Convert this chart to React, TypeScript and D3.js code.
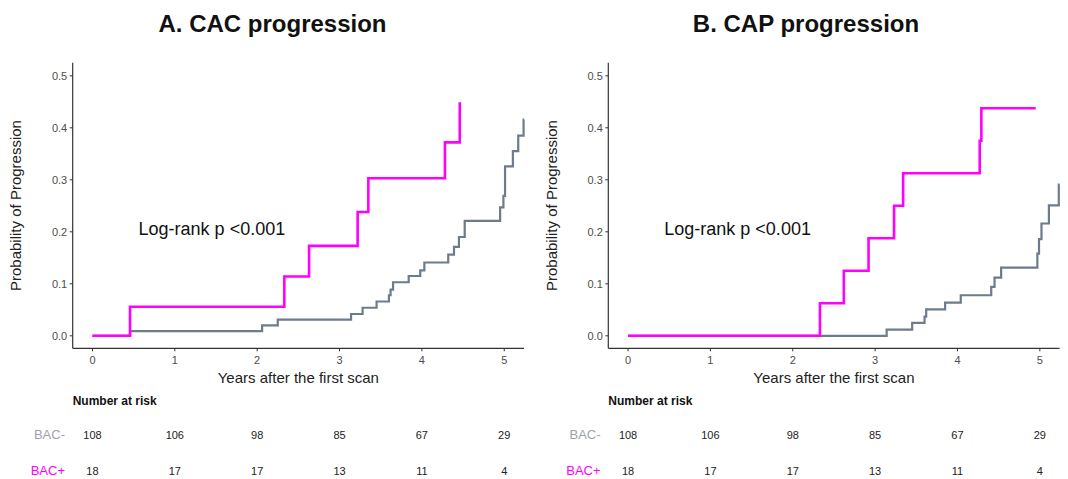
import React from "react";
import * as d3 from "d3";

// at-risk table
const riskYears = [0, 1, 2, 3, 4, 5];
const riskNeg = [108, 106, 98, 85, 67, 29];
const riskPos = [18, 17, 17, 13, 11, 4];

// A. CAC progression (step curves)
const cacNegTime = [0, 0.456, 2.06, 2.25, 3.14, 3.28, 3.45, 3.6, 3.62, 3.65, 3.84, 3.98, 4.03, 4.32, 4.39, 4.45, 4.52, 4.95, 4.99, 5.01, 5.105, 5.17, 5.235, 5.24];
const cacNegProb = [0, 0.009, 0.02, 0.031, 0.042, 0.054, 0.066, 0.078, 0.089, 0.103, 0.115, 0.126, 0.141, 0.156, 0.171, 0.19, 0.221, 0.247, 0.269, 0.326, 0.355, 0.385, 0.416, 0.416];
const cacPosTime = [0, 0.456, 2.33, 2.63, 3.22, 3.35, 4.28, 4.46, 4.46];
const cacPosProb = [0, 0.056, 0.114, 0.173, 0.238, 0.303, 0.372, 0.449, 0.449];

// B. CAP progression
const capNegTime = [0, 3.14, 3.45, 3.6, 3.62, 3.85, 4.04, 4.41, 4.45, 4.53, 4.97, 4.99, 5.02, 5.11, 5.23, 5.24];
const capNegProb = [0, 0.012, 0.025, 0.037, 0.051, 0.064, 0.078, 0.094, 0.112, 0.131, 0.158, 0.186, 0.216, 0.251, 0.291, 0.291];
const capPosTime = [0, 2.33, 2.62, 2.92, 3.23, 3.34, 4.27, 4.29, 4.95];
const capPosProb = [0, 0.0625, 0.125, 0.1875, 0.25, 0.3125, 0.375, 0.4375, 0.4375];

const yTicks = [0, 0.1, 0.2, 0.3, 0.4, 0.5];
const xTicks = [0, 1, 2, 3, 4, 5];

const FONT = "Liberation Sans, Arial, Helvetica, sans-serif";
const GREY_LINE = "#6e7b8b";
const MAGENTA = "#ff00ff";
const AXIS = "#333333";
const TICK_TXT = "#4d4d4d";

const toPts = (t: number[], p: number[]) => t.map((d, i) => ({ t: d, p: p[i] }));

type PanelProps = {
  ox: number;
  title: string;
  titleX: number;
  negT: number[];
  negP: number[];
  posT: number[];
  posP: number[];
  logX: number;
};

const Panel = ({ ox, title, titleX, negT, negP, posT, posP, logX }: PanelProps) => {
  const left = 72.7 + ox;
  const right = 524 + ox;
  const x = d3.scaleLinear().domain([-0.24, 5.24]).range([left, right]);
  const y = d3.scaleLinear().domain([-0.024, 0.525]).range([348.3, 62.8]);

  const line = d3
    .line<{ t: number; p: number }>()
    .x((d) => x(d.t))
    .y((d) => y(d.p))
    .curve(d3.curveStepAfter);

  const bottom = y(-0.024);
  const top = y(0.525);

  return (
    <g fontFamily={FONT}>
      <text x={titleX} y={32} textAnchor="middle" fontSize={24} fontWeight="bold" fill="#111">
        {title}
      </text>

      {/* axes */}
      <line x1={left} x2={left} y1={top} y2={bottom} stroke={AXIS} strokeWidth={1.2} />
      <line x1={left} x2={right} y1={bottom} y2={bottom} stroke={AXIS} strokeWidth={1.2} />
      {yTicks.map((v) => (
        <g key={"y" + v}>
          <line x1={left - 3} x2={left} y1={y(v)} y2={y(v)} stroke={AXIS} strokeWidth={1} />
          <text x={left - 5.5} y={y(v) + 4} textAnchor="end" fontSize={11} fill={TICK_TXT}>
            {d3.format(".1f")(v)}
          </text>
        </g>
      ))}
      {xTicks.map((v) => (
        <g key={"x" + v}>
          <line x1={x(v)} x2={x(v)} y1={bottom} y2={bottom + 3} stroke={AXIS} strokeWidth={1} />
          <text x={x(v)} y={bottom + 15.5} textAnchor="middle" fontSize={11} fill={TICK_TXT}>
            {v}
          </text>
        </g>
      ))}
      <text x={(left + right) / 2} y={383} textAnchor="middle" fontSize={15} fill="#222">
        Years after the first scan
      </text>
      <text
        transform={`translate(${ox + 21},${(top + bottom) / 2}) rotate(-90)`}
        textAnchor="middle"
        fontSize={15}
        fill="#222"
      >
        Probability of Progression
      </text>

      {/* curves */}
      <path d={line(toPts(negT, negP)) || ""} fill="none" stroke={GREY_LINE} strokeWidth={2.2} />
      <path d={line(toPts(posT, posP)) || ""} fill="none" stroke={MAGENTA} strokeWidth={2.6} />

      <text x={x(logX)} y={y(0.207) + 6.5} fontSize={18} fill="#111">
        Log-rank p &lt;0.001
      </text>

      {/* number at risk */}
      <text x={left} y={405} fontSize={12} fontWeight="bold" fill="#111">
        Number at risk
      </text>
      <text x={ox + 65} y={439} textAnchor="end" fontSize={13} fill="#9ea3ad">
        BAC-
      </text>
      <text x={ox + 65} y={475} textAnchor="end" fontSize={13} fill={MAGENTA}>
        BAC+
      </text>
      {riskYears.map((yr, i) => (
        <g key={"r" + yr}>
          <text x={x(yr)} y={438.5} textAnchor="middle" fontSize={11} fill="#222">
            {riskNeg[i]}
          </text>
          <text x={x(yr)} y={474.5} textAnchor="middle" fontSize={11} fill="#222">
            {riskPos[i]}
          </text>
        </g>
      ))}
    </g>
  );
};

export default function App() {
  return (
    <div style={{ position: "absolute", left: 0, top: 0 }}>
      <svg width={1068} height={479} style={{ display: "block", background: "#fff" }}>
        <Panel
          ox={0}
          title="A. CAC progression"
          titleX={272.5}
          negT={cacNegTime}
          negP={cacNegProb}
          posT={cacPosTime}
          posP={cacPosProb}
          logX={0.56}
        />
        <Panel
          ox={535.6}
          title="B. CAP progression"
          titleX={806}
          negT={capNegTime}
          negP={capNegProb}
          posT={capPosTime}
          posP={capPosProb}
          logX={0.44}
        />
      </svg>
    </div>
  );
}
